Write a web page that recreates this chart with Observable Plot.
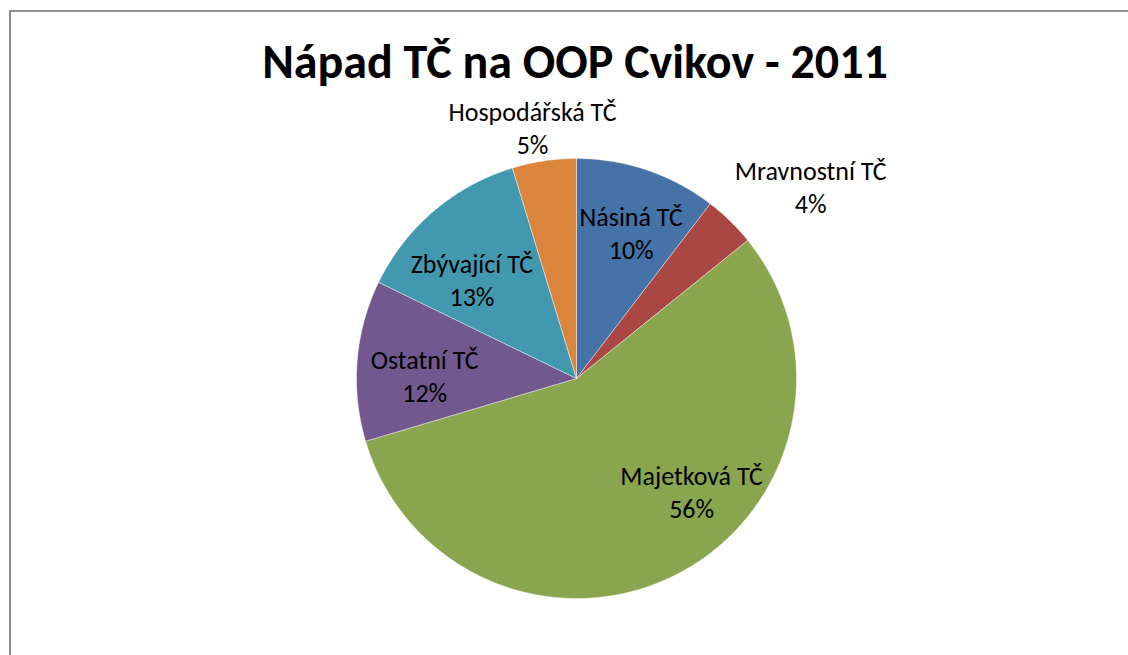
<!DOCTYPE html>
<html>
<head>
<meta charset="utf-8">
<script src="https://cdn.jsdelivr.net/npm/d3@7"></script>
<script src="https://cdn.jsdelivr.net/npm/@observablehq/plot@0.6"></script>
<style>
  html, body { margin: 0; padding: 0; background: #fff; }
  #wrap { position: relative; width: 1128px; height: 655px; overflow: hidden; }
  #border { position: absolute; left: 9px; top: 10px; width: 1200px; height: 700px;
            border-top: 2px solid #8e8e8e; border-left: 2px solid #8e8e8e; box-sizing: border-box; }
  #title { position: absolute; left: 0; top: 0; width: 1150px; height: 100px; line-height: 124px;
           text-align: center; font-family: Carlito, Lato, "Open Sans", sans-serif; font-weight: bold;
           font-size: 48px; color: #000; }
  #chart { position: absolute; left: 0; top: 100px; }
</style>
</head>
<body>
<div id="wrap">
  <div id="border"></div>
  <div id="title">Nápad TČ na OOP Cvikov - 2011</div>
  <div id="chart"></div>
</div>
<script>
// Data (percent shares; clockwise from 12 o'clock)
const categories = ["Násiná TČ", "Mravnostní TČ", "Majetková TČ", "Ostatní TČ", "Zbývající TČ", "Hospodářská TČ"];
const shares = [10.4, 3.8, 56.2, 11.8, 13.1, 4.7];
const colors = ["#4572A7", "#AA4643", "#89A54E", "#71588F", "#4198AF", "#DB843D"];

// Label layout (angle in degrees clockwise from top, radius as fraction of pie radius)
const labelAngle = [20.8, 51, 135, 270.5, 313, 350];
const labelRadius = [0.70, 1.37, 0.74, 0.69, 0.65, 1.15];

const W = 1128, H = 555, R = 220, CX = 576, CY = 278;

const arcs = d3.pie().sort(null).value(d => d)(shares);

const slices = arcs.map((a, i) => {
  const pts = [{x: 0, y: 0}];
  const n = Math.max(2, Math.ceil((a.endAngle - a.startAngle) / (Math.PI / 360)));
  for (let k = 0; k <= n; k++) {
    const t = a.startAngle + (a.endAngle - a.startAngle) * k / n;
    pts.push({x: Math.sin(t), y: Math.cos(t)});
  }
  pts.push({x: 0, y: 0});
  return {name: categories[i], color: colors[i], pts};
});

const labels = categories.map((c, i) => {
  const t = labelAngle[i] * Math.PI / 180;
  return {
    x: labelRadius[i] * Math.sin(t),
    y: labelRadius[i] * Math.cos(t),
    text: `${c}\n${Math.round(shares[i])}%`
  };
});

const chart = Plot.plot({
  width: W,
  height: H,
  margin: 0,
  x: {domain: [-CX / R, (W - CX) / R], axis: null},
  y: {domain: [-(H - CY) / R, CY / R], axis: null},
  style: {background: "transparent", overflow: "visible"},
  marks: [
    ...slices.map(s => Plot.line(s.pts, {x: "x", y: "y", fill: s.color, stroke: "#ffffff", strokeWidth: 0.6, strokeOpacity: 0.7, curve: "linear"})),
    Plot.text(labels, {x: "x", y: "y", text: "text", fontSize: 26, lineHeight: 1.27, dy: -2.5,
      fontFamily: "Carlito, Lato, 'Open Sans', sans-serif", fill: "#000", textAnchor: "middle", lineAnchor: "middle"})
  ]
});
document.getElementById("chart").appendChild(chart);
</script>
</body>
</html>
